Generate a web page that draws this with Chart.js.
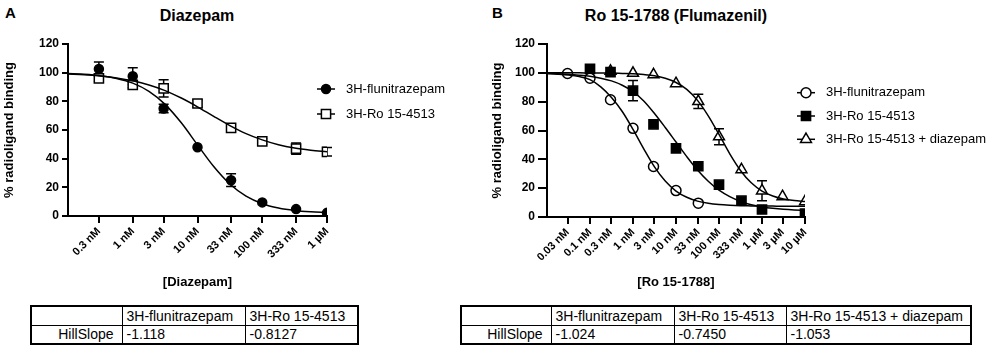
<!DOCTYPE html>
<html>
<head>
<meta charset="utf-8">
<script src="https://cdn.jsdelivr.net/npm/chart.js@4.4.0/dist/chart.umd.min.js"></script>
<style>
  body { margin:0; width:1000px; height:349px; background:#fff; overflow:hidden; position:relative;
         font-family:"Liberation Sans", Arial, sans-serif; color:#000; }
  .abs { position:absolute; }
  .panel { font-weight:bold; font-size:15px; line-height:15px; }
  .title { font-weight:bold; font-size:16px; line-height:16px; white-space:nowrap; transform:translateX(-50%); }
  table.tbl { position:absolute; border-collapse:collapse; table-layout:fixed; font-size:14px; border:2px solid #000; }
  table.tbl td { border:1.5px solid #000; padding:0 4px; height:19px; line-height:16px; white-space:nowrap; box-sizing:border-box; }
  table.tbl td.r { text-align:right; padding-right:8px; }
</style>
</head>
<body>

<div class="abs panel" style="left:5px;top:5px;">A</div>
<div class="abs panel" style="left:492px;top:5px;">B</div>
<div class="abs title" style="left:197px;top:8px;">Diazepam</div>
<div class="abs title" style="left:676px;top:8px;">Ro 15-1788 (Flumazenil)</div>

<canvas id="chartA" class="abs" width="470" height="300" style="left:0;top:0;"></canvas>
<canvas id="chartB" class="abs" width="520" height="300" style="left:480px;top:0;"></canvas>

<table class="tbl" style="left:30px;top:305px;width:327px;">
  <colgroup><col style="width:91px"><col style="width:123px"><col style="width:113px"></colgroup>
  <tr><td></td><td>3H-flunitrazepam</td><td>3H-Ro 15-4513</td></tr>
  <tr><td class="r">HillSlope</td><td>-1.118</td><td>-0.8127</td></tr>
</table>

<table class="tbl" style="left:460px;top:305px;width:510px;">
  <colgroup><col style="width:90px"><col style="width:123px"><col style="width:112px"><col style="width:185px"></colgroup>
  <tr><td></td><td>3H-flunitrazepam</td><td>3H-Ro 15-4513</td><td>3H-Ro 15-4513 + diazepam</td></tr>
  <tr><td class="r">HillSlope</td><td>-1.024</td><td>-0.7450</td><td>-1.053</td></tr>
</table>

<script>
// Panel A: Diazepam displacement (concentrations in nM)
const concA = [0.3, 1, 3, 10, 33, 100, 333, 1000];
const tickLabelsA = ['0.3 nM', '1 nM', '3 nM', '10 nM', '33 nM', '100 nM', '333 nM', '1 µM'];
const fluniA = [102.5, 97.5, 75, 48, 25, 9.5, 4.8, 2.2];
const fluniErrA = [5, 6, 3, 0, 4.5, 0, 0, 0];
const roA = [96, 91.5, 89, 78.5, 61.5, 52, 47, 44.8];
const roErrA = [2, 2, 6, 2.5, 2.5, 2, 4, 3];

// fitted curves
const curveXA = [0.1, 0.178, 0.316, 0.562, 1, 1.78, 3.16, 5.62, 10, 17.8, 31.6, 56.2, 100, 178, 316, 562, 1000];
const fluniFitA = [99.4, 98.9, 97.9, 96.0, 92.7, 87.0, 77.9, 65.0, 49.6, 34.5, 22.3, 13.8, 8.6, 5.6, 3.9, 3.0, 2.5];
const roFitA = [99.0, 98.5, 97.6, 96.3, 94.3, 91.4, 87.5, 82.3, 76.2, 69.5, 63.1, 57.5, 53.1, 49.7, 47.4, 45.9, 44.8];

// Panel B: Ro 15-1788 (Flumazenil) displacement
const concB = [0.03, 0.1, 0.3, 1, 3, 10, 33, 100, 333, 1000, 3000, 10000];
const tickLabelsB = ['0.03 nM', '0.1 nM', '0.3 nM', '1 nM', '3 nM', '10 nM', '33 nM', '100 nM', '333 nM', '1 µM', '3 µM', '10 µM'];
const fluniConcB = [0.03, 0.1, 0.3, 1, 3, 10, 33];
const fluniB = [99.5, 96.3, 81.3, 61.5, 35, 18.3, 9.6];
const roConcB = [0.1, 0.3, 1, 3, 10, 33, 100, 333, 1000, 10000];
const roB = [102.8, 100.5, 87.6, 64.3, 47.6, 35.2, 22.4, 11.3, 5.2, 2.4];
const roErrB = [0, 0, 7, 0, 0, 0, 0, 0, 0, 0];
const diazConcB = [0.3, 1, 3, 10, 33, 100, 333, 1000, 3000, 10000];
const diazB = [101.2, 99.8, 98.8, 92.6, 80.2, 55.7, 32.9, 18.2, 14.2, 10.7];
const diazErrB = [0, 0, 0, 0, 5, 5.5, 0, 7, 0, 0];

const curveXB = [0.01, 0.0178, 0.0316, 0.0562, 0.1, 0.178, 0.316, 0.562, 1, 1.78, 3.16, 5.62, 10, 17.8, 31.6, 56.2, 100, 178, 316, 562, 1000, 1780, 3160, 5620, 10000];
const fluniFitB = [99.5, 99.1, 98.5, 97.4, 95.3, 90.3, 82.9, 73.2, 60.8, 47.3, 34.8, 24.9, 18.0, 13.7, 11.0, 9.5, 8.6, 8.1, 7.8, 7.7, 7.6, 7.55, 7.5, 7.5, 7.5];
const roFitB = [99.6, 99.4, 99.0, 98.4, 97.6, 96.3, 94.4, 91.4, 87.0, 80.5, 71.8, 62.1, 52.0, 41.9, 32.6, 24.8, 18.6, 14.1, 10.8, 8.5, 7.0, 6.0, 5.3, 4.85, 4.6];
const diazFitB = [100, 100, 100, 100, 99.9, 99.9, 99.8, 99.6, 99.4, 98.8, 97.9, 96.2, 93.3, 88.5, 80.9, 70.2, 57.3, 43.8, 32.3, 23.7, 18.0, 14.6, 12.5, 11.4, 10.8];

Chart.defaults.font.family = '"Liberation Sans", Arial, sans-serif';
Chart.defaults.color = '#000';

const pts = (xs, ys) => xs.map((x, i) => ({x: x, y: ys[i]}));

function fitLine(xs, ys) {
    return { data: pts(xs, ys), showLine: true, pointRadius: 0, borderColor: '#000', borderWidth: 1.5,
             cubicInterpolationMode: 'monotone', fill: false };
}
function marker(label, xs, ys, errs, style, radius, filled) {
    return { label: label, data: pts(xs, ys), errors: errs, showLine: false, pointStyle: style,
             pointRadius: radius, pointBorderWidth: 1.5, pointBorderColor: '#000',
             pointBackgroundColor: filled ? '#000' : '#fff' };
}

// error bars drawn with the chart's scales
const errorBars = {
    id: 'errorBars',
    beforeDatasetsDraw(chart) {
        const ctx = chart.ctx, xs = chart.scales.x, ys = chart.scales.y;
        chart.data.datasets.forEach(ds => {
            if (!ds.errors) return;
            ds.data.forEach((p, i) => {
                const e = ds.errors[i];
                if (!e) return;
                const x = xs.getPixelForValue(p.x);
                const t = ys.getPixelForValue(p.y + e), b = ys.getPixelForValue(p.y - e);
                ctx.save();
                ctx.strokeStyle = '#000'; ctx.lineWidth = 1.5;
                ctx.beginPath();
                ctx.moveTo(x, t); ctx.lineTo(x, b);
                ctx.moveTo(x - 5, t); ctx.lineTo(x + 5, t);
                ctx.moveTo(x - 5, b); ctx.lineTo(x + 5, b);
                ctx.stroke();
                ctx.restore();
            });
        });
    }
};

// legend with line + marker, like the original figure
function sideLegend(items, x, top, gap) {
    return {
        id: 'sideLegend',
        afterDraw(chart) {
            const ctx = chart.ctx;
            items.forEach((idx, k) => {
                const ds = chart.data.datasets[idx];
                const y = top + k * gap;
                ctx.save();
                ctx.strokeStyle = '#000'; ctx.lineWidth = 1.5;
                ctx.beginPath(); ctx.moveTo(x - 9, y); ctx.lineTo(x + 9, y); ctx.stroke();
                ctx.fillStyle = ds.pointBackgroundColor;
                Chart.helpers.drawPoint(ctx, {pointStyle: ds.pointStyle, radius: ds.pointRadius,
                    rotation: 0, borderWidth: ds.pointBorderWidth}, x, y);
                ctx.fillStyle = '#000';
                ctx.font = '13px "Liberation Sans", Arial, sans-serif';
                ctx.textBaseline = 'middle';
                ctx.fillText(ds.label, x + 20, y);
                ctx.restore();
            });
        }
    };
}

function makeChart(id, datasets, conc, labels, xmin, xmax, xTitle, pad, yTitlePad, tickLen, legend) {
    new Chart(document.getElementById(id), {
        type: 'scatter',
        data: { datasets: datasets },
        options: {
            responsive: false,
            animation: false,
            layout: { padding: pad },
            plugins: { legend: { display: false }, tooltip: { enabled: false } },
            scales: {
                x: {
                    type: 'logarithmic', min: xmin, max: xmax,
                    afterBuildTicks: axis => { axis.ticks = conc.map(v => ({value: v})); },
                    afterFit: s => { s.height = 300 - pad.top - pad.plotH; },
                    grid: { display: true, drawOnChartArea: false, tickLength: 7, color: '#000', lineWidth: 2 },
                    border: { display: true, color: '#000', width: 2 },
                    ticks: { autoSkip: false, minRotation: 45, maxRotation: 45, padding: 2,
                             font: { size: 11, weight: 'bold' }, color: '#000',
                             callback: (v, i) => labels[i] },
                    title: { display: true, text: xTitle, font: { size: 13, weight: 'bold' },
                             color: '#000', padding: { top: 10, bottom: 10 } }
                },
                y: {
                    min: 0, max: 120,
                    afterFit: s => { s.width = pad.axisX; },
                    grid: { display: true, drawOnChartArea: false, tickLength: tickLen, color: '#000', lineWidth: 2 },
                    border: { display: true, color: '#000', width: 2 },
                    ticks: { stepSize: 20, padding: 3, font: { size: 12, weight: 'bold' }, color: '#000' },
                    title: { display: true, text: '% radioligand binding', font: { size: 13, weight: 'bold' },
                             color: '#000', padding: { top: yTitlePad, bottom: 0 } }
                }
            }
        },
        plugins: [errorBars, legend]
    });
}

makeChart('chartA', [
    fitLine(curveXA, fluniFitA),
    fitLine(curveXA, roFitA),
    marker('3H-flunitrazepam', concA, fluniA, fluniErrA, 'circle', 4.5, true),
    marker('3H-Ro 15-4513', concA, roA, roErrA, 'rect', 6.5, false)
], concA, tickLabelsA, 0.1, 1000, '[Diazepam]',
   { left: 0, top: 44, right: 143, bottom: 0, plotH: 172, axisX: 68 }, 2, 6,
   sideLegend([2, 3], 326, 89, 25));

makeChart('chartB', [
    fitLine(curveXB, fluniFitB),
    fitLine(curveXB, roFitB),
    fitLine(curveXB, diazFitB),
    marker('3H-flunitrazepam', fluniConcB, fluniB, null, 'circle', 5, false),
    marker('3H-Ro 15-4513', roConcB, roB, roErrB, 'rect', 6.5, true),
    marker('3H-Ro 15-4513 + diazepam', diazConcB, diazB, diazErrB, 'triangle', 6.3, false)
], concB, tickLabelsB, 0.01, 10000, '[Ro 15-1788]',
   { left: 0, top: 44, right: 195, bottom: 0, plotH: 173, axisX: 67 }, 10, 9,
   sideLegend([3, 4, 5], 326, 92.7, 23.3));
</script>
</body>
</html>
